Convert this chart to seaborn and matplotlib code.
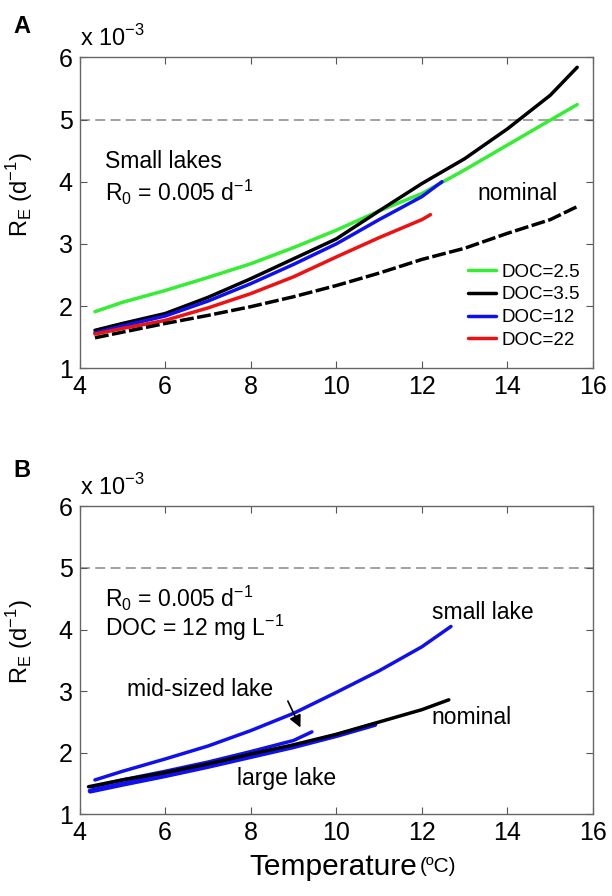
import seaborn as sns
import pandas as pd
import matplotlib.pyplot as plt
import numpy as np

sns.set_style("ticks")
plt.rcParams['font.family'] = ['Liberation Sans', 'DejaVu Sans']
plt.rcParams['text.color'] = 'black'
plt.rcParams['axes.labelcolor'] = 'black'

# values, R_E in units of 1e-3 d^-1
# panel A : small lakes, different DOC
temp_doc25 = [4.36, 5, 6, 7, 8, 9, 10, 11, 12, 13, 14, 15, 15.63]
re_doc25 = [1.91, 2.06, 2.25, 2.46, 2.68, 2.94, 3.22, 3.53, 3.81, 4.19, 4.59, 4.99, 5.24]
temp_doc35 = [4.36, 5, 6, 7, 8, 9, 10, 11, 12, 13, 14, 15, 15.63]
re_doc35 = [1.61, 1.72, 1.88, 2.14, 2.44, 2.76, 3.08, 3.53, 3.97, 4.37, 4.85, 5.39, 5.84]
temp_doc12 = [4.36, 5, 6, 7, 8, 9, 10, 11, 12, 12.47]
re_doc12 = [1.57, 1.68, 1.84, 2.08, 2.36, 2.67, 3.00, 3.39, 3.76, 4.00]
temp_doc22 = [4.36, 5, 6, 7, 8, 9, 10, 11, 12, 12.2]
re_doc22 = [1.55, 1.64, 1.77, 1.97, 2.20, 2.47, 2.79, 3.10, 3.39, 3.47]
temp_nomA = [4.36, 5, 6, 7, 8, 9, 10, 11, 12, 13, 14, 15, 15.63]
re_nomA = [1.49, 1.58, 1.72, 1.85, 1.99, 2.15, 2.33, 2.53, 2.75, 2.93, 3.17, 3.39, 3.60]
doc_labels = ['DOC=2.5', 'DOC=3.5', 'DOC=12', 'DOC=22']

# panel B : DOC = 12, different lake sizes
temp_small = [4.36, 5, 6, 7, 8, 9, 10, 11, 12, 12.68]
re_small = [1.56, 1.70, 1.90, 2.11, 2.36, 2.64, 2.98, 3.33, 3.72, 4.05]
temp_mid = [4.3, 5, 6, 7, 8, 9, 9.43]
re_mid = [1.45, 1.56, 1.70, 1.85, 2.02, 2.20, 2.34]
temp_large = [4.25, 5, 6, 7, 8, 9, 10, 10.9]
re_large = [1.38, 1.49, 1.63, 1.78, 1.94, 2.10, 2.28, 2.46]
temp_nomB = [4.21, 5, 6, 7, 8, 9, 10, 11, 12, 12.63]
re_nomB = [1.45, 1.56, 1.68, 1.82, 1.98, 2.13, 2.30, 2.50, 2.70, 2.86]

R0 = 5.0

fig = plt.figure(figsize=(6.12, 8.96), dpi=100)
axA = fig.add_axes([0.130, 0.589, 0.839, 0.347])
axB = fig.add_axes([0.130, 0.091, 0.839, 0.344])

lw = 2.5
green, blue, red = '#33ee33', '#1010ee', '#ee1111'
sns.lineplot(x=temp_doc25, y=re_doc25, color=green, lw=lw, sort=False, ax=axA, label=doc_labels[0])
sns.lineplot(x=temp_doc35, y=re_doc35, color='black', lw=lw, sort=False, ax=axA, label=doc_labels[1])
sns.lineplot(x=temp_doc12, y=re_doc12, color=blue, lw=lw, sort=False, ax=axA, label=doc_labels[2])
sns.lineplot(x=temp_doc22, y=re_doc22, color=red, lw=lw, sort=False, ax=axA, label=doc_labels[3])
sns.lineplot(x=temp_nomA, y=re_nomA, color='black', lw=lw, sort=False, ax=axA)
axA.lines[-1].set_dashes((4, 1))

sns.lineplot(x=temp_large, y=re_large, color=blue, lw=lw + 1.2, sort=False, ax=axB)
sns.lineplot(x=temp_mid, y=re_mid, color=blue, lw=lw, sort=False, ax=axB)
sns.lineplot(x=temp_nomB, y=re_nomB, color='black', lw=lw, sort=False, ax=axB)
sns.lineplot(x=temp_small, y=re_small, color=blue, lw=lw, sort=False, ax=axB)

for ax in (axA, axB):
    ax.axhline(R0, color='#888888', lw=1.1, ls=(0, (6.5, 3.5)), zorder=0)
    ax.set_xlim(4, 16)
    ax.set_ylim(1, 6)
    ax.set_xticks(np.arange(4, 17, 2))
    ax.set_yticks(np.arange(1, 7, 1))
    ax.tick_params(direction='in', top=True, right=True, length=5, width=0.8,
                   color='#555555', labelcolor='black', labelsize=18, pad=5)
    for s in ax.spines.values():
        s.set_color('#666666')
        s.set_linewidth(1.0)
    ax.set_ylabel(r'R$_\mathregular{E}$ (d$^\mathregular{-1}$)', fontsize=17)
    ax.yaxis.set_label_coords(-0.086, 0.56)
    ax.set_xlabel('')
    ax.text(0.0, 1.02, r'x 10$^\mathregular{-3}$', transform=ax.transAxes,
            fontsize=17, ha='left', va='bottom')

axA.legend(loc='lower right', bbox_to_anchor=(1.0, 0.02), frameon=False, fontsize=13.5,
           handlelength=1.45, handletextpad=0.3, labelspacing=0.3, borderaxespad=0.3)

fs = 16.5
axA.text(4.6, 4.32, 'Small lakes', fontsize=fs, va='center')
axA.text(4.6, 3.83, r'R$_\mathregular{0}$ = 0.005 d$^\mathregular{-1}$', fontsize=fs, va='center')
axA.text(13.3, 3.81, 'nominal', fontsize=fs, va='center')

axB.text(4.6, 4.51, r'R$_\mathregular{0}$ = 0.005 d$^\mathregular{-1}$', fontsize=fs, va='center')
axB.text(4.6, 4.03, r'DOC = 12 mg L$^\mathregular{-1}$', fontsize=fs, va='center')
axB.text(12.23, 4.27, 'small lake', fontsize=fs, va='center')
axB.text(12.23, 2.58, 'nominal', fontsize=fs, va='center')
axB.text(7.68, 1.59, 'large lake', fontsize=fs, va='center')
axB.text(5.1, 3.02, 'mid-sized lake', fontsize=fs, va='center')
axB.annotate('', xy=(9.19, 2.37), xytext=(8.84, 2.88),
             arrowprops=dict(arrowstyle='-|>', color='black', lw=1.2, mutation_scale=18))

axB.text(0.657, -0.17, 'Temperature', transform=axB.transAxes, fontsize=21.5,
         ha='right', va='center')
axB.text(0.662, -0.17, '(ºC)', transform=axB.transAxes, fontsize=15,
         ha='left', va='center')

fig.text(0.022, 0.970, 'A', fontsize=17, fontweight='bold', ha='left', va='center')
fig.text(0.022, 0.475, 'B', fontsize=17, fontweight='bold', ha='left', va='center')

fig.savefig('out.png', dpi=100)
